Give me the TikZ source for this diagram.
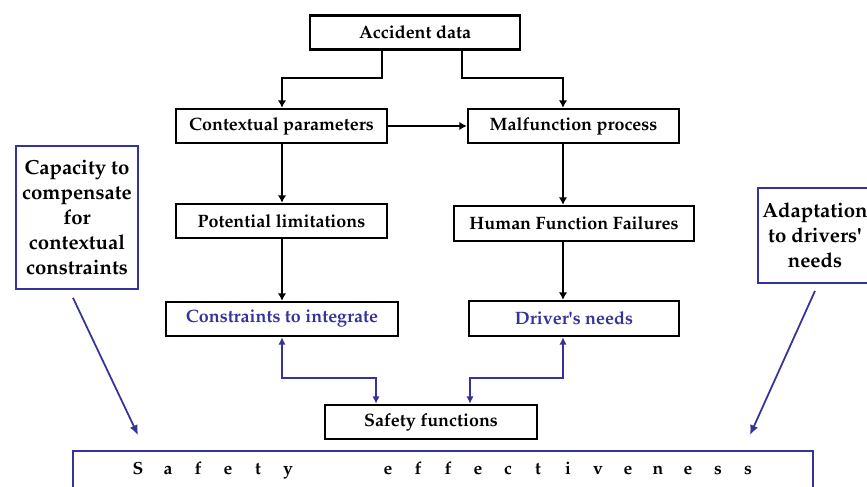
\documentclass[tikz,border=0pt]{standalone}
\usepackage[T1]{fontenc}
\usepackage{mathpazo}
\usetikzlibrary{arrows.meta}
\definecolor{navy}{RGB}{51,51,153}
\newcommand\spl[1]{\makebox[0.6cm]{#1}}
\tikzset{
    box/.style={draw, line width=1.4pt, minimum width=4.2cm, minimum height=0.68cm,
        inner sep=0pt, font=\fontsize{10.2}{12}\selectfont\bfseries},
    sidebox/.style={draw=navy, line width=1pt, inner sep=0pt, align=center,
        font=\fontsize{11.6}{14.2}\selectfont\bfseries},
    arr/.style={line width=1.1pt, -{Latex[length=1.5mm,width=1.7mm]}},
    barr/.style={navy, line width=1pt, {Latex[length=1.5mm,width=1.5mm]}-{Latex[length=1.5mm,width=1.5mm]}},
    sarr/.style={navy, line width=1pt, -{Latex[length=2mm,width=1.7mm]}}
}
\begin{document}
\begin{tikzpicture}[x=0.02cm, y=-0.02cm]
    \useasboundingbox (0,0) rectangle (867,487);
    \coordinate (lcol) at (282,0);
    \coordinate (rcol) at (563,0);
    \node[box] (acc) at (415, 32.5) {Accident data};
    \node[box, minimum width=4.22cm] (ctx) at (281.5, 126) {Contextual parameters};
    \node[box, minimum width=4.22cm] (mal) at (573.5, 126) {Malfunction process};
    \node[box, minimum width=4.22cm] (pot) at (281.5, 221) {Potential limitations};
    \node[box, minimum width=4.8cm, minimum height=0.7cm] (hff) at (574, 223.5) {Human Function Failures};
    \node[box, minimum width=4.64cm, text=navy] (con) at (282, 319) {Constraints to integrate};
    \node[box, minimum height=0.7cm, text=navy] (drv) at (574, 318.5) {Driver\textquotesingle s needs};
    \node[box, minimum width=4.24cm] (saf) at (431, 422) {Safety functions};
    \node[draw=navy, line width=1pt, minimum width=14.8cm, minimum height=0.76cm, inner sep=0pt,
        font=\fontsize{10}{12}\selectfont\bfseries] (eff) at (443, 470)
        {\spl{S}\spl{a}\spl{f}\spl{e}\spl{t}\spl{y}\hspace{1.4cm}%
         \spl{e}\spl{f}\spl{f}\spl{e}\spl{c}\spl{t}\spl{i}\spl{v}\spl{e}\spl{n}\spl{e}\spl{s}\spl{s}};
    \node[sidebox, minimum width=2.44cm, minimum height=2.86cm] (cap) at (77, 217.5)
        {Capacity to\\compensate\\for\\contextual\\constraints};
    \node[sidebox, minimum width=2.28cm, minimum height=1.9cm] (ada) at (815, 235.5)
        {Adaptation\\to drivers\textquotesingle\\needs};
    \draw[arr] ([xshift=-0.66cm]acc.south) -- ++(0,27) -| (ctx.north -| lcol);
    \draw[arr] ([xshift=0.94cm]acc.south) -- ++(0,27) -| (mal.north -| rcol);
    \draw[arr] (ctx.east) -- (mal.west);
    \draw[arr] (ctx.south -| lcol) -- (pot.north -| lcol);
    \draw[arr] (mal.south -| rcol) -- (hff.north -| rcol);
    \draw[arr] (pot.south -| lcol) -- (con.north -| lcol);
    \draw[arr] (hff.south -| rcol) -- (drv.north -| rcol);
    \draw[barr] (con.south -| lcol) -- ++(0,41) -| ([xshift=-1.1cm]saf.north);
    \draw[barr] (drv.south -| rcol) -- ++(0,41) -| ([xshift=0.78cm]saf.north);
    \draw[sarr] ([xshift=-0.08cm,yshift=-0.16cm]cap.south) -- ([xshift=-6.1cm,yshift=0.3cm]eff.north);
    \draw[sarr] ([yshift=-0.14cm]ada.south) -- ([xshift=6.14cm,yshift=0.3cm]eff.north);
\end{tikzpicture}
\end{document}
